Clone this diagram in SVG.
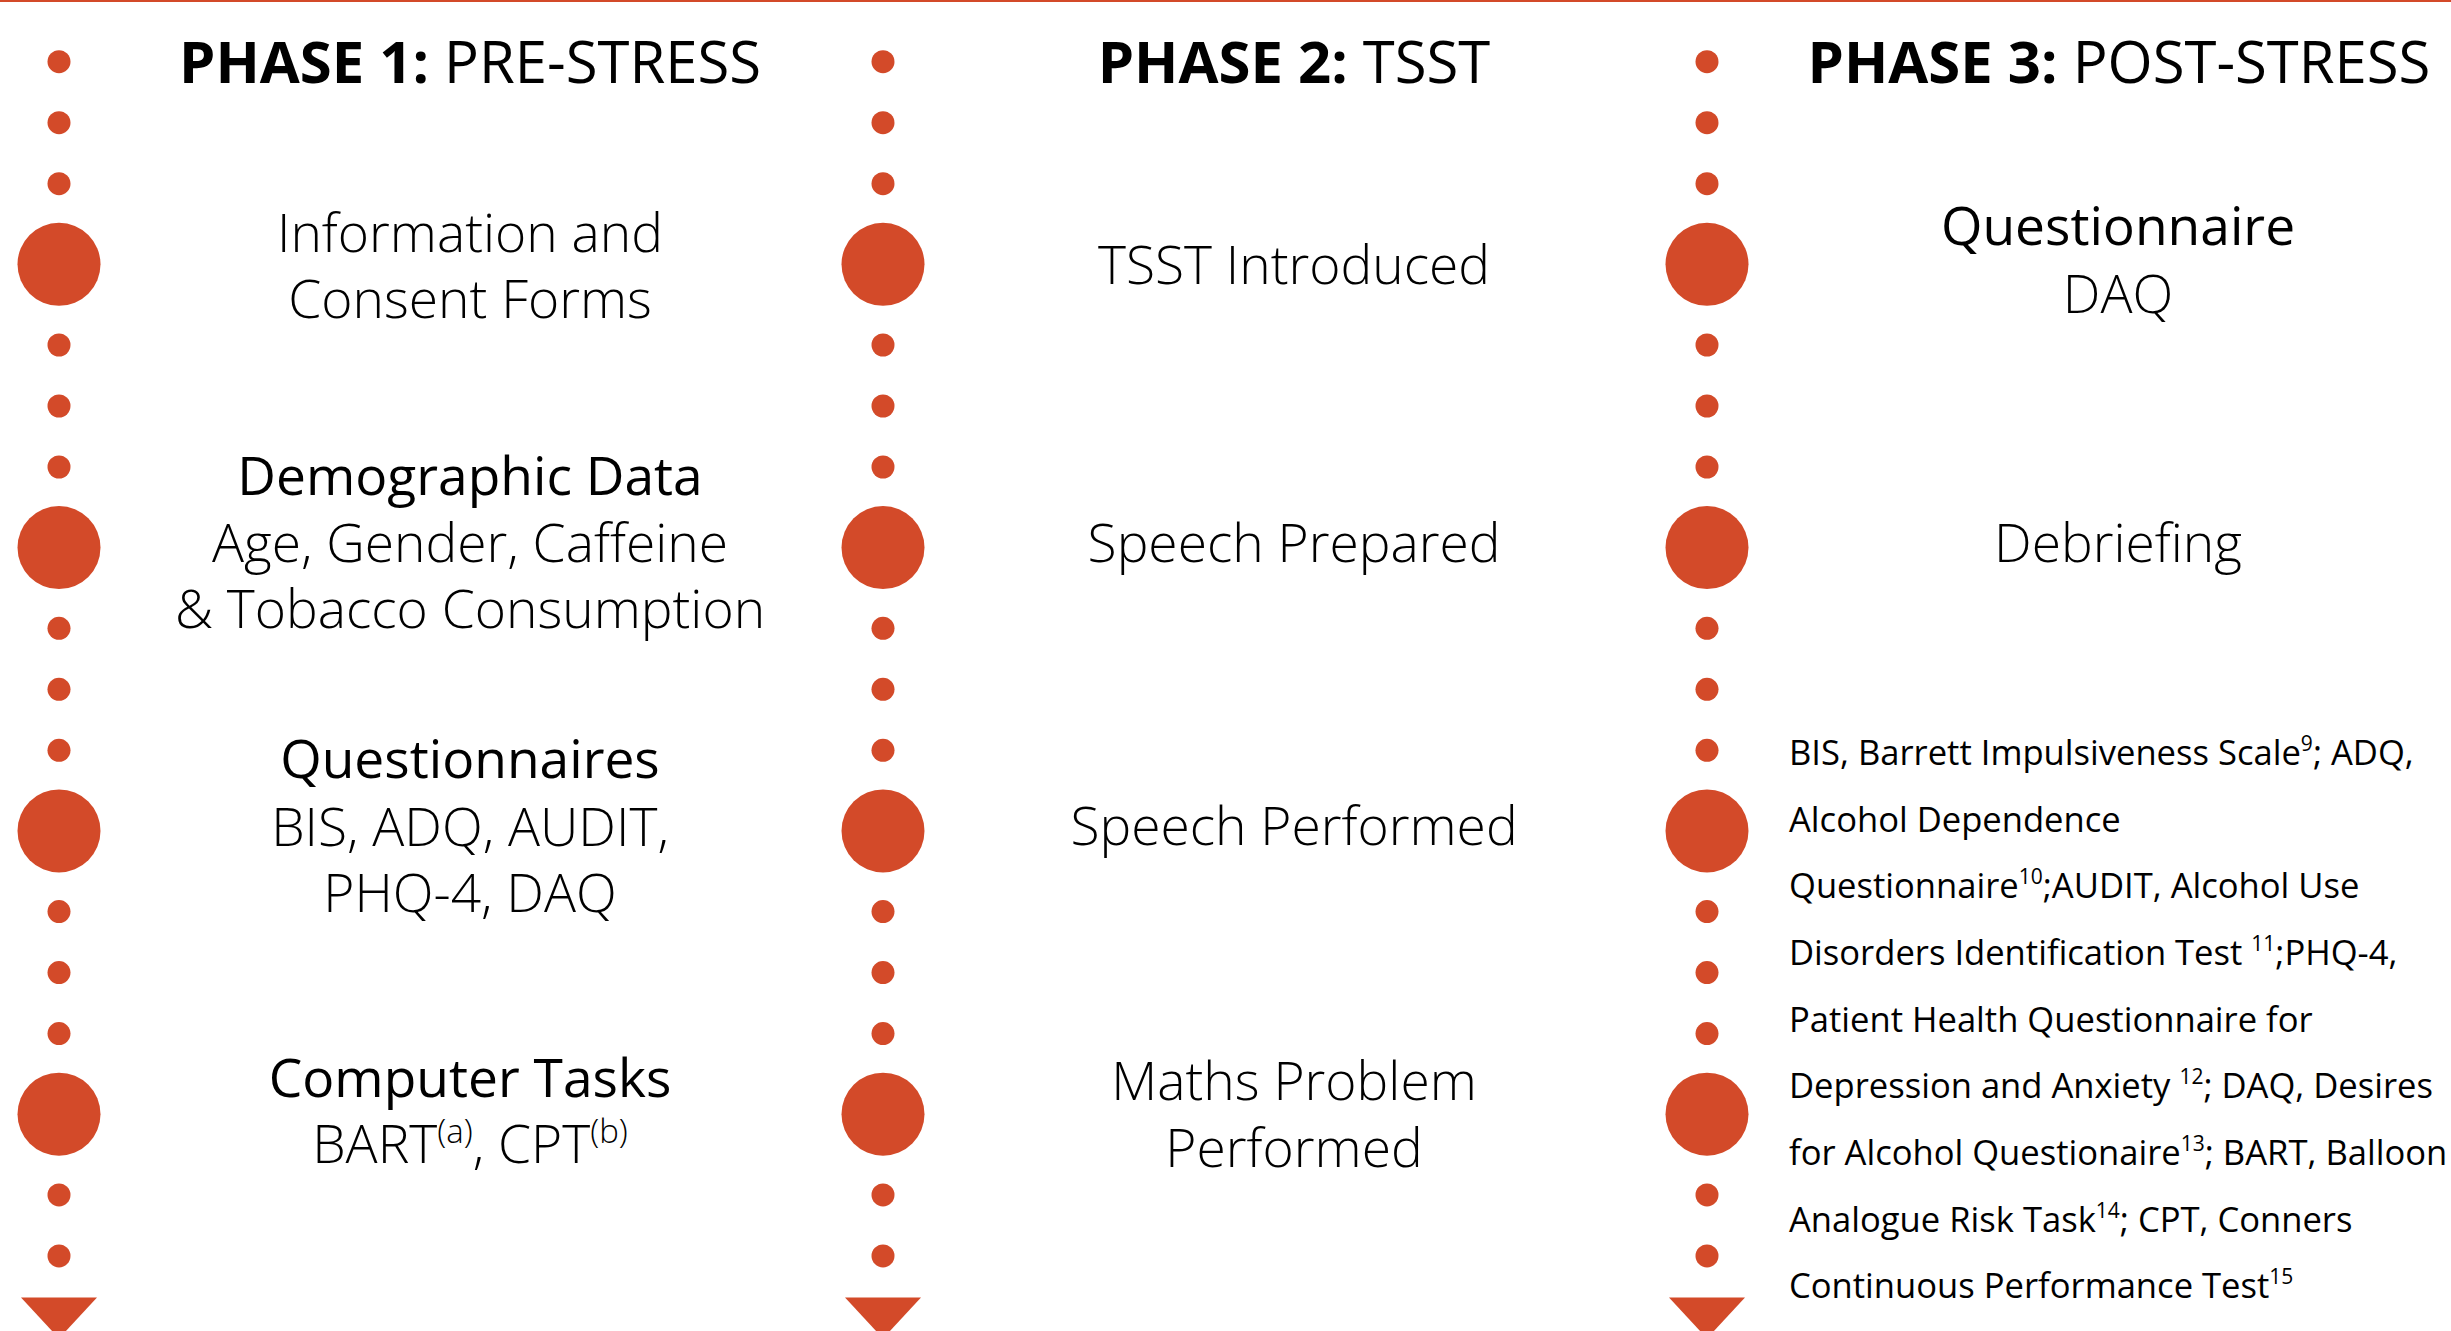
<svg xmlns="http://www.w3.org/2000/svg" width="2451" height="1331" viewBox="0 0 2451 1331">
  <defs>
    <style>
      .dot { fill: #D34A29; }
      .big { fill: #D34A29; }
      .arrow { fill: #D34A29; }
      text { font-family: "Open Sans", "Liberation Sans", sans-serif; fill: #000; }
      .title { font-size: 58px; font-weight: 400; text-anchor: middle; }
      .title .b { font-weight: 700; }
      .lbl { font-size: 53.3px; font-weight: 300; text-anchor: middle; }
      .head { font-weight: 400; }
      .note { font-size: 34.6px; font-weight: 400; }
      .sup { font-size: 21px; }
    </style>
    <circle id="d" r="11.5"/>
    <circle id="bigc" r="41.5"/>
    <path id="tri" d="M -38 0 L 38 0 L 0 41 Z"/>
  </defs>

  <rect x="0" y="0" width="2451" height="2" fill="#D34A29"/>

  <!-- dotted timelines -->
  <g id="connectors">
    <g id="line-1" transform="translate(59,0)">
      <use href="#d" class="dot" y="61.7"/><use href="#d" class="dot" y="122.7"/><use href="#d" class="dot" y="183.7"/>
      <use href="#d" class="dot" y="345"/><use href="#d" class="dot" y="406"/><use href="#d" class="dot" y="467"/>
      <use href="#d" class="dot" y="628.3"/><use href="#d" class="dot" y="689.3"/><use href="#d" class="dot" y="750.3"/>
      <use href="#d" class="dot" y="911.6"/><use href="#d" class="dot" y="972.6"/><use href="#d" class="dot" y="1033.6"/>
      <use href="#d" class="dot" y="1194.9"/><use href="#d" class="dot" y="1255.9"/>
      <use href="#tri" class="arrow" y="1297.5"/>
    </g>
    <g id="line-2" transform="translate(883,0)">
      <use href="#d" class="dot" y="61.7"/><use href="#d" class="dot" y="122.7"/><use href="#d" class="dot" y="183.7"/>
      <use href="#d" class="dot" y="345"/><use href="#d" class="dot" y="406"/><use href="#d" class="dot" y="467"/>
      <use href="#d" class="dot" y="628.3"/><use href="#d" class="dot" y="689.3"/><use href="#d" class="dot" y="750.3"/>
      <use href="#d" class="dot" y="911.6"/><use href="#d" class="dot" y="972.6"/><use href="#d" class="dot" y="1033.6"/>
      <use href="#d" class="dot" y="1194.9"/><use href="#d" class="dot" y="1255.9"/>
      <use href="#tri" class="arrow" y="1297.5"/>
    </g>
    <g id="line-3" transform="translate(1707,0)">
      <use href="#d" class="dot" y="61.7"/><use href="#d" class="dot" y="122.7"/><use href="#d" class="dot" y="183.7"/>
      <use href="#d" class="dot" y="345"/><use href="#d" class="dot" y="406"/><use href="#d" class="dot" y="467"/>
      <use href="#d" class="dot" y="628.3"/><use href="#d" class="dot" y="689.3"/><use href="#d" class="dot" y="750.3"/>
      <use href="#d" class="dot" y="911.6"/><use href="#d" class="dot" y="972.6"/><use href="#d" class="dot" y="1033.6"/>
      <use href="#d" class="dot" y="1194.9"/><use href="#d" class="dot" y="1255.9"/>
      <use href="#tri" class="arrow" y="1297.5"/>
    </g>
  </g>

  <!-- phase headings -->
  <g id="phase-1"><text class="title" x="470" y="83"><tspan class="b">PHASE 1:</tspan> PRE-STRESS</text></g>
  <g id="phase-2"><text class="title" x="1294" y="83"><tspan class="b">PHASE 2:</tspan> TSST</text></g>
  <g id="phase-3"><text class="title" x="2119" y="83"><tspan class="b">PHASE 3:</tspan> POST-STRESS</text></g>

  <!-- phase 1 steps -->
  <g id="p1-consent">
    <use href="#bigc" class="big" x="59" y="264.3"/>
    <text class="lbl" x="470" y="251.7">Information and</text>
    <text class="lbl" x="470" y="317.7">Consent Forms</text>
  </g>
  <g id="p1-demographics">
    <use href="#bigc" class="big" x="59" y="547.6"/>
    <text class="lbl head" x="470" y="495">Demographic Data</text>
    <text class="lbl" x="470" y="561.7">Age, Gender, Caffeine</text>
    <text class="lbl" x="470" y="628.3">&amp; Tobacco Consumption</text>
  </g>
  <g id="p1-questionnaires">
    <use href="#bigc" class="big" x="59" y="830.9"/>
    <text class="lbl head" x="470" y="778.3">Questionnaires</text>
    <text class="lbl" x="470" y="846">BIS, ADQ, AUDIT,</text>
    <text class="lbl" x="470" y="912.3">PHQ-4, DAQ</text>
  </g>
  <g id="p1-tasks">
    <use href="#bigc" class="big" x="59" y="1114.2"/>
    <text class="lbl head" x="470" y="1097.3">Computer Tasks</text>
    <text class="lbl" x="470" y="1163.3">BART<tspan font-size="33" dy="-20">(a)</tspan><tspan dy="20">, CPT</tspan><tspan font-size="33" dy="-20">(b)</tspan></text>
  </g>

  <!-- phase 2 steps -->
  <g id="p2-intro">
    <use href="#bigc" class="big" x="883" y="264.3"/>
    <text class="lbl" x="1294" y="284">TSST Introduced</text>
  </g>
  <g id="p2-prepared">
    <use href="#bigc" class="big" x="883" y="547.6"/>
    <text class="lbl" x="1294" y="562">Speech Prepared</text>
  </g>
  <g id="p2-performed">
    <use href="#bigc" class="big" x="883" y="830.9"/>
    <text class="lbl" x="1294" y="845">Speech Performed</text>
  </g>
  <g id="p2-maths">
    <use href="#bigc" class="big" x="883" y="1114.2"/>
    <text class="lbl" x="1294" y="1100">Maths Problem</text>
    <text class="lbl" x="1294" y="1167">Performed</text>
  </g>

  <!-- phase 3 steps -->
  <g id="p3-questionnaire">
    <use href="#bigc" class="big" x="1707" y="264.3"/>
    <text class="lbl head" x="2118" y="245.4">Questionnaire</text>
    <text class="lbl" x="2118" y="312.7">DAQ</text>
  </g>
  <g id="p3-debrief">
    <use href="#bigc" class="big" x="1707" y="547.6"/>
    <text class="lbl" x="2118" y="562">Debriefing</text>
  </g>
  <g id="p3-markers">
    <use href="#bigc" class="big" x="1707" y="830.9"/>
    <use href="#bigc" class="big" x="1707" y="1114.2"/>
  </g>

  <!-- abbreviations key -->
  <g id="key" class="note">
    <text class="note" x="1789" y="765">BIS, Barrett Impulsiveness Scale<tspan class="sup" dy="-14">9</tspan><tspan dy="14">; ADQ,</tspan></text>
    <text class="note" x="1789" y="831.5">Alcohol Dependence</text>
    <text class="note" x="1789" y="898">Questionnaire<tspan class="sup" dy="-14">10</tspan><tspan dy="14">;AUDIT, Alcohol Use</tspan></text>
    <text class="note" x="1789" y="964.7">Disorders Identification Test <tspan class="sup" dy="-14">11</tspan><tspan dy="14">;PHQ-4,</tspan></text>
    <text class="note" x="1789" y="1031.5">Patient Health Questionnaire for</text>
    <text class="note" x="1789" y="1098.3">Depression and Anxiety <tspan class="sup" dy="-14">12</tspan><tspan dy="14">; DAQ, Desires</tspan></text>
    <text class="note" x="1789" y="1165">for Alcohol Questionaire<tspan class="sup" dy="-14">13</tspan><tspan dy="14">; BART, Balloon</tspan></text>
    <text class="note" x="1789" y="1231.5">Analogue Risk Task<tspan class="sup" dy="-14">14</tspan><tspan dy="14">; CPT, Conners</tspan></text>
    <text class="note" x="1789" y="1298">Continuous Performance Test<tspan class="sup" dy="-14">15</tspan></text>
  </g>
</svg>
